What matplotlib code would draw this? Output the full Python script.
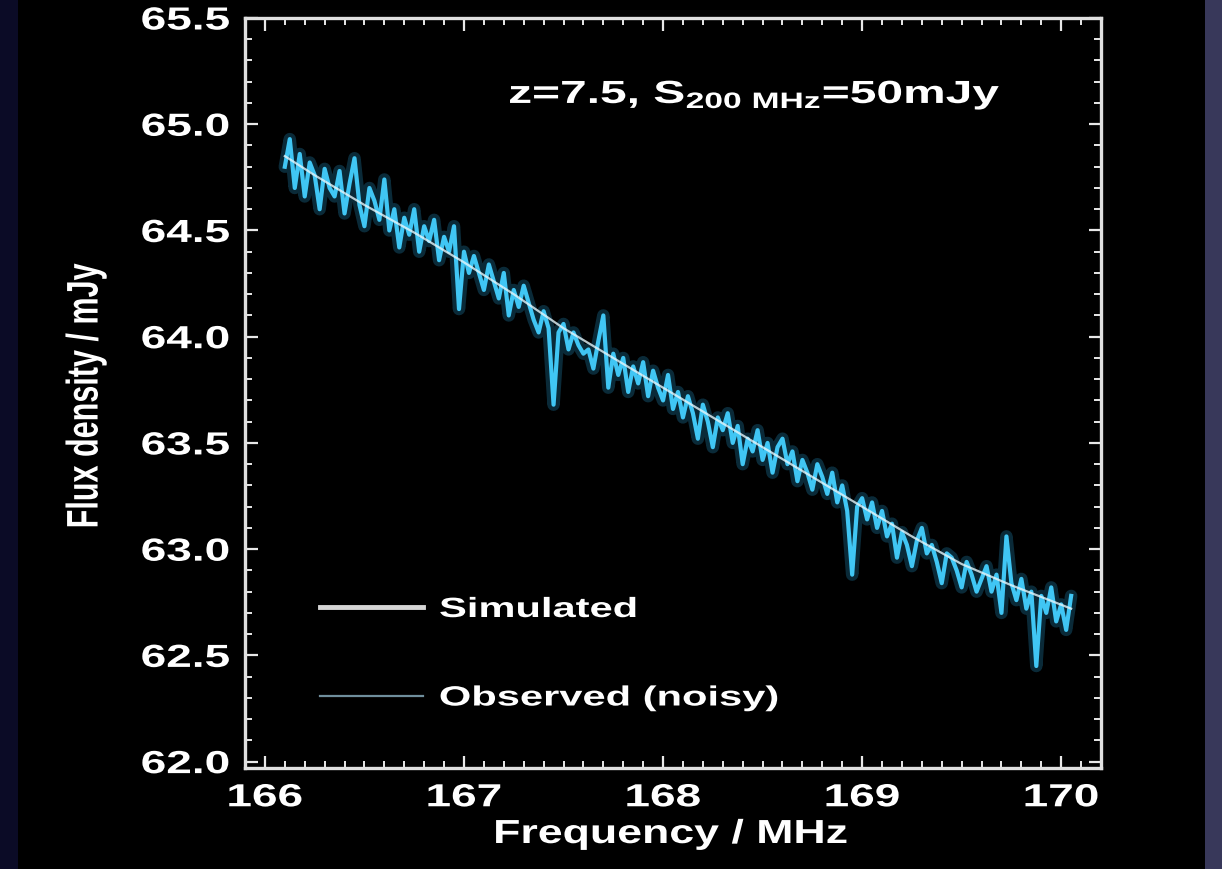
import numpy as np
import matplotlib
matplotlib.use("Agg")
import matplotlib.pyplot as plt
from matplotlib.lines import Line2D
from matplotlib.patches import Rectangle
from matplotlib.patheffects import AbstractPathEffect
from matplotlib.transforms import Affine2D

# ---------------- data ----------------
sim_freq = [166.10, 166.25, 166.50, 166.75, 167.00, 167.25, 167.50, 167.75, 168.00,
            168.25, 168.50, 168.75, 169.00, 169.25, 169.50, 169.75, 170.05]
sim_flux = [64.85, 64.76, 64.62, 64.49, 64.35, 64.20, 64.04, 63.90, 63.76,
            63.62, 63.48, 63.34, 63.20, 63.06, 62.93, 62.83, 62.72]

obs_start = 166.10
obs_stop = 170.05
obs_flux = [
    64.80, 64.93, 64.70, 64.86, 64.66, 64.82, 64.76, 64.60, 64.79, 64.70,
    64.66, 64.78, 64.58, 64.72, 64.84, 64.62, 64.52, 64.70, 64.64, 64.55,
    64.74, 64.50, 64.60, 64.42, 64.56, 64.48, 64.60, 64.40, 64.52, 64.45,
    64.55, 64.36, 64.47, 64.40, 64.52, 64.13, 64.40, 64.30, 64.38, 64.30,
    64.22, 64.34, 64.26, 64.18, 64.30, 64.10, 64.22, 64.14, 64.24, 64.16,
    64.08, 64.02, 64.12, 64.04, 63.68, 64.02, 64.06, 63.94, 64.02, 63.96,
    63.92, 63.94, 63.85, 63.98, 64.10, 63.76, 63.92, 63.82, 63.90, 63.74,
    63.86, 63.78, 63.88, 63.72, 63.84, 63.76, 63.70, 63.82, 63.66, 63.74,
    63.62, 63.72, 63.64, 63.52, 63.68, 63.60, 63.48, 63.62, 63.56, 63.64,
    63.50, 63.58, 63.40, 63.52, 63.46, 63.56, 63.42, 63.50, 63.36, 63.48,
    63.52, 63.40, 63.46, 63.32, 63.42, 63.36, 63.28, 63.40, 63.34, 63.26,
    63.36, 63.22, 63.30, 63.18, 62.88, 63.20, 63.24, 63.14, 63.22, 63.10,
    63.18, 63.06, 63.12, 62.96, 63.08, 63.02, 62.92, 63.04, 63.10, 62.98,
    63.02, 62.94, 62.84, 62.98, 62.96, 62.90, 62.82, 62.94, 62.88, 62.80,
    62.86, 62.92, 62.80, 62.88, 62.70, 63.06, 62.84, 62.76, 62.86, 62.72,
    62.80, 62.45, 62.78, 62.70, 62.82, 62.66, 62.74, 62.62, 62.78,
]
obs_freq = np.linspace(obs_start, obs_stop, len(obs_flux))

xticks = [166, 167, 168, 169, 170]
yticks = [62.0, 62.5, 63.0, 63.5, 64.0, 64.5, 65.0, 65.5]
xtick_labels = ["166", "167", "168", "169", "170"]
ytick_labels = ["62.0", "62.5", "63.0", "63.5", "64.0", "64.5", "65.0", "65.5"]
legend_labels = ["Simulated", "Observed (noisy)"]
title_text = r"z=7.5, S$_{\mathregular{200\ MHz}}$=50mJy"
xlabel_text = "Frequency / MHz"
ylabel_text = "Flux density / mJy"


# ---------------- helpers ----------------
class Stretch(AbstractPathEffect):
    """Stretch glyphs in their own (unrotated) frame."""
    def __init__(self, sx=1.0, sy=1.0, anchor="center"):
        super().__init__()
        self.sx, self.sy, self.anchor = sx, sy, anchor

    def draw_path(self, renderer, gc, tpath, affine, rgbFace=None):
        ext = tpath.get_extents()
        if self.anchor == "left":
            px = ext.x0
        elif self.anchor == "right":
            px = ext.x1
        else:
            px = 0.5 * (ext.x0 + ext.x1)
        py = 0.5 * (ext.y0 + ext.y1)
        local = Affine2D().translate(-px, -py).scale(self.sx, self.sy).translate(px, py)
        renderer.draw_path(gc, tpath, local + affine, rgbFace)


plt.rcParams["font.family"] = ["Liberation Sans", "DejaVu Sans"]
plt.rcParams["font.weight"] = "bold"
plt.rcParams["axes.labelweight"] = "bold"
plt.rcParams["mathtext.fontset"] = "custom"
plt.rcParams["mathtext.rm"] = "Liberation Sans:bold"
plt.rcParams["mathtext.it"] = "Liberation Sans:bold"
plt.rcParams["mathtext.bf"] = "Liberation Sans:bold"
plt.rcParams["mathtext.default"] = "regular"

W, H = 1222, 869
fig = plt.figure(figsize=(W / 100, H / 100), dpi=100)
fig.patch.set_facecolor("black")
fig.add_artist(Rectangle((0, 0), 18 / W, 1, transform=fig.transFigure,
                         facecolor="#0b0b26", edgecolor="none", zorder=-5))
fig.add_artist(Rectangle((1205 / W, 0), 17 / W, 1, transform=fig.transFigure,
                         facecolor="#38385a", edgecolor="none", zorder=-5))

ax_l, ax_r, ax_t, ax_b = 245, 1101, 18, 768
ax = fig.add_axes([ax_l / W, 1 - ax_b / H, (ax_r - ax_l) / W, (ax_b - ax_t) / H])
ax.set_facecolor("black")

# glow + observed + simulated
ax.plot(obs_freq, obs_flux, color="#2aa8e0", lw=9, alpha=0.25,
        solid_joinstyle="round", solid_capstyle="round")
ax.plot(obs_freq, obs_flux, color="#40c6f4", lw=3.0, solid_joinstyle="round")
ax.plot(sim_freq, sim_flux, color="#e6f6fb", lw=1.6, alpha=0.8)

ax.set_xlim(165.9, 170.2)
ax.set_ylim(61.97, 65.5)

ax.set_xticks(xticks)
ax.set_xticklabels(xtick_labels)
ax.set_yticks(yticks)
ax.set_yticklabels(ytick_labels)
ax.set_xticks(np.arange(165.9, 170.21, 0.1), minor=True)
ax.set_yticks(np.arange(62.0, 65.51, 0.1), minor=True)

ax.tick_params(which="both", direction="in", top=True, right=True, colors="#e8e8e8")
ax.tick_params(which="major", length=9, width=1.6, labelsize=23, pad=11)
ax.tick_params(which="minor", length=5, width=1.4)
for sp in ax.spines.values():
    sp.set_color("#e0e0e0")
    sp.set_linewidth(2.4)

for t in ax.xaxis.get_major_ticks():
    t.label1.set_path_effects([Stretch(sx=1.44, anchor="center")])
    t.label1.set_color("white")
for t in ax.yaxis.get_major_ticks():
    t.label1.set_path_effects([Stretch(sx=1.44, anchor="right")])
    t.label1.set_color("white")

# axis labels
ax.set_xlabel(xlabel_text, fontsize=24, fontweight="bold", color="white",
              va="baseline", ha="center")
ax.xaxis.set_label_coords((671 - ax_l) / (ax_r - ax_l), -(843 - ax_b) / (ax_b - ax_t))
ax.xaxis.label.set_path_effects([Stretch(sx=1.34, anchor="center")])

ax.set_ylabel(ylabel_text, fontsize=22, fontweight="bold", color="white",
              va="center", ha="center")
ax.yaxis.set_label_coords((86 - ax_l) / (ax_r - ax_l), 1 - (396 - ax_t) / (ax_b - ax_t))
ax.yaxis.label.set_path_effects([Stretch(sx=1.0, sy=1.45, anchor="center")])

# annotation title
ttl = ax.text((755 - ax_l) / (ax_r - ax_l), 1 - (103 - ax_t) / (ax_b - ax_t), title_text,
              transform=ax.transAxes, ha="center", va="baseline", fontsize=23, color="white")
ttl.set_path_effects([Stretch(sx=1.5, anchor="center")])

# legend
handles = [Line2D([], [], color="#d6d6d6", lw=3.5),
           Line2D([], [], color="#6f8e9c", lw=1.6)]
leg = ax.legend(handles, legend_labels, loc="upper left",
                bbox_to_anchor=(320 / W, 1 - 597 / H), bbox_transform=fig.transFigure,
                frameon=False, borderpad=0, borderaxespad=0, fontsize=20,
                handlelength=3.7, handletextpad=0.6, labelspacing=2.25)
for txt in leg.get_texts():
    txt.set_color("white")
    txt.set_path_effects([Stretch(sx=1.5, anchor="left")])

fig.savefig("out.png", dpi=100, facecolor=fig.get_facecolor())
